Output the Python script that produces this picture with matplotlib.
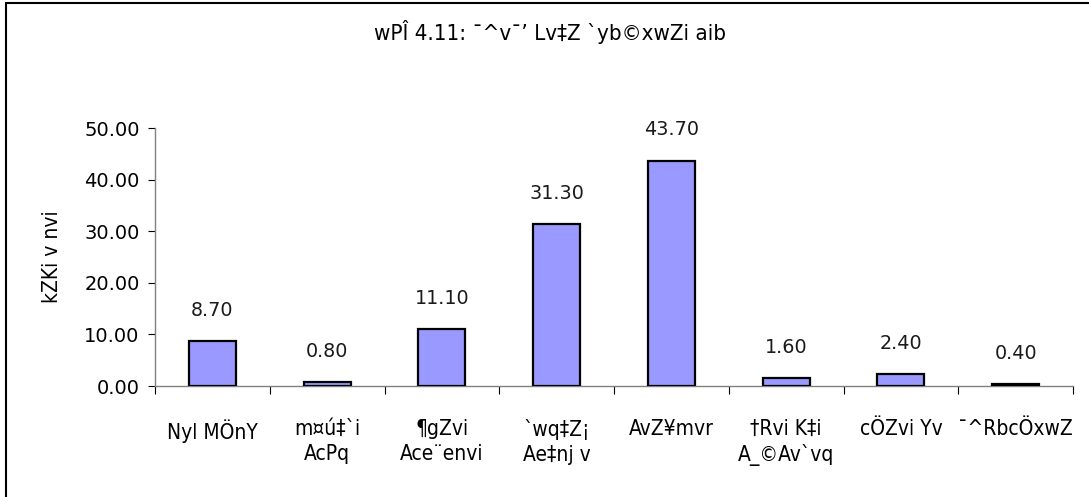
import matplotlib
matplotlib.use('Agg')
import matplotlib.pyplot as plt
from matplotlib.patches import Rectangle

categories = ['Nyl MÖnY', 'm¤ú‡`i\nAcPq', '¶gZvi\nAce¨envi', '`wq‡Z¡\nAe‡nj v',
              'AvZ¥mvr', '†Rvi K‡i\nA_©Av`vq', 'cÖZvi Yv', '¯^RbcÖxwZ']
values = [8.7, 0.8, 11.1, 31.3, 43.7, 1.6, 2.4, 0.4]
title = 'wPÎ 4.11: ¯^v¯’ Lv‡Z `yb©xwZi aib'
ylabel = 'kZKi v nvi'
yticks = [0, 10, 20, 30, 40, 50]

narrow = dict(family='DejaVu Sans', stretch='condensed')

fig = plt.figure(figsize=(10.89, 4.97), dpi=100)
fig.patch.set_facecolor('white')
ax = fig.add_axes([155 / 1089, 1 - 386 / 497, (1073 - 155) / 1089, (386 - 128) / 497])

x = list(range(len(values)))
ax.bar(x, values, width=0.41, color='#9999FF', edgecolor='black', linewidth=1.6, zorder=3)

for xi, v in zip(x, values):
    ax.annotate(f'{v:.2f}', (xi, v), xytext=(0, 22), textcoords='offset points',
                ha='center', va='center', fontsize=13.8, color='#1a1a1a')

ax.set_xlim(-0.5, len(values) - 0.5)
ax.set_ylim(0, 50)
ax.set_yticks(yticks)
ax.set_yticklabels([f'{t:.2f}' for t in yticks], fontsize=14)
ax.set_xticks([i - 0.5 for i in range(len(values) + 1)])
ax.set_xticklabels([])
ax.set_xticks(x, minor=True)
ax.set_xticklabels(categories, minor=True, fontsize=15, linespacing=1.3, **narrow)
ax.tick_params(axis='x', which='minor', length=0, pad=24)
ax.tick_params(axis='x', which='major', length=6, color='black', direction='out')
ax.tick_params(axis='y', length=5, color='black', direction='out', pad=6)

for s in ['top', 'right']:
    ax.spines[s].set_visible(False)
for s in ['left', 'bottom']:
    ax.spines[s].set_color('#808080')
    ax.spines[s].set_linewidth(1.0)

ax.set_ylabel(ylabel, fontsize=15, labelpad=16, **narrow)
fig.text(550 / 1089, 1 - 32 / 497, title, fontsize=16, ha='center', va='center', **narrow)

fig.patches.append(Rectangle((6 / 1089, -0.1), 1.2, 1.1 - 2.5 / 497, transform=fig.transFigure,
                             fill=False, edgecolor='black', linewidth=1.5))

fig.savefig('out.png', dpi=100)
